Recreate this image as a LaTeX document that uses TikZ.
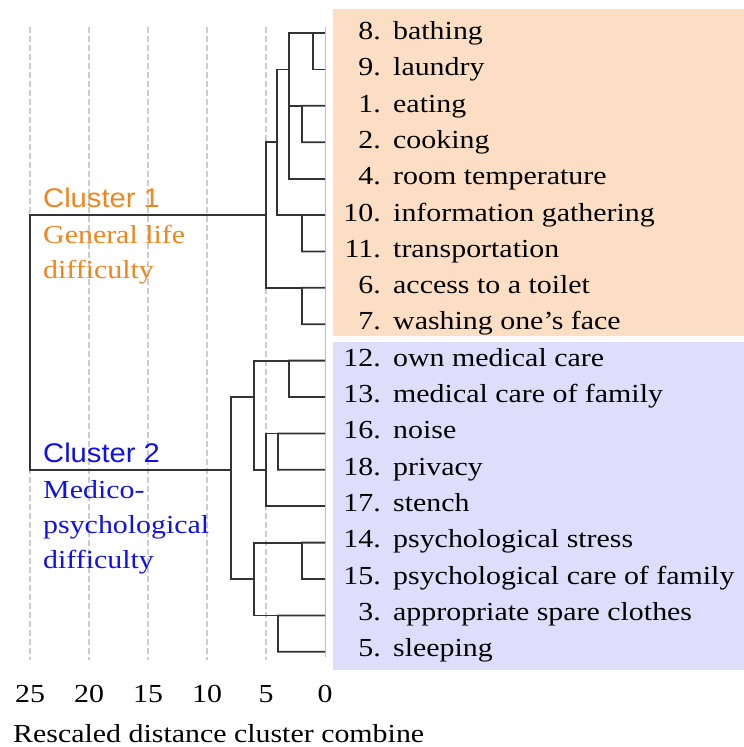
\documentclass[tikz,border=0pt]{standalone}
\usepackage{fontspec}
\setmainfont{Liberation Serif}[FakeStretch=1.15]
\newfontfamily\clusterfont{Liberation Sans}[FakeStretch=1.08]
\usetikzlibrary{positioning, calc}
\definecolor{boxorange}{RGB}{252,222,196}
\definecolor{boxblue}{RGB}{222,222,252}
\definecolor{txtorange}{RGB}{242,132,30}
\definecolor{txtblue}{RGB}{16,16,232}
\tikzstyle{grid}=[draw=gray!40,line width=2pt,dash pattern=on 6pt off 3pt]
\tikzstyle{tree}=[draw=black!80,line width=1.8pt]
\tikzstyle{itemnum}=[anchor=base east,inner sep=0pt]
\tikzstyle{itemtxt}=[anchor=base west,inner sep=0pt]
\tikzstyle{clabel}=[anchor=base west,inner sep=0pt]

\begin{document}
\begin{tikzpicture}[x=1pt,y=-1pt,font=\fontsize{26}{30}\selectfont]
    \useasboundingbox (0,0) rectangle (744,747);
    % cluster panels
    \fill[boxorange] (333,9) rectangle (744,336);
    \fill[boxblue] (333,342) rectangle (744,670);
    % distance grid
    \foreach \x in {30,89,148,207,266}
      \draw[grid] (\x,27) -- (\x,660);
    \draw[gray!50,line width=1pt] (325,27) -- (325,657);
    % leaves and item labels
    \foreach \num/\txt [count=\i from 0] in {8/bathing,9/laundry,1/eating,2/cooking,
        4/room temperature,10/information gathering,11/transportation,
        6/access to a toilet,7/washing one’s face,12/own medical care,
        13/medical care of family,16/noise,18/privacy,17/stench,
        14/psychological stress,15/psychological care of family,
        3/appropriate spare clothes,5/sleeping} {
      \coordinate (l\num) at (325,33+36.4*\i);
      \node [itemnum] (n\num) at (381,39.5+36.3*\i) {\num.};
      \node [itemtxt] (t\num) at (393,39.5+36.3*\i) {\txt};
    }
    % merge points
    \coordinate (m89) at (313,33);
    \coordinate (m12) at (302,105.8);
    \coordinate (mC) at (289,69.4);
    \coordinate (m1011) at (302,215);
    \coordinate (mE) at (277,142.2);
    \coordinate (m67) at (302,287.8);
    \coordinate (mG) at (266,215);
    \coordinate (m1213) at (289,360.6);
    \coordinate (m1618) at (278,433.4);
    \coordinate (mJ) at (266,469.8);
    \coordinate (mK) at (254,397);
    \coordinate (m1415) at (302,542.6);
    \coordinate (m35) at (278,615.4);
    \coordinate (mN) at (254,579);
    \coordinate (mO) at (231,470);
    \coordinate (mR) at (30,342);
    % dendrogram
    \draw[tree] (l9) -| (m89) -- (l8);
    \draw[tree] (l2) -| (m12) -- (l1);
    \draw[tree] (m89) -| (mC);
    \draw[tree] (l4) -| (mC);
    \draw[tree] (m12) -- (m12 -| mC);
    \draw[tree] (l11) -| (m1011) -- (l10);
    \draw[tree] (mC) -| (mE);
    \draw[tree] (m1011) -| (mE);
    \draw[tree] (l7) -| (m67) -- (l6);
    \draw[tree] (mE) -| (mG);
    \draw[tree] (m67) -| (mG);
    \draw[tree] (l13) -| (m1213) -- (l12);
    \draw[tree] (l18) -| (m1618) -- (l16);
    \draw[tree] (m1618) -| (mJ);
    \draw[tree] (l17) -| (mJ);
    \draw[tree] (m1213) -| (mK);
    \draw[tree] (mJ) -| (mK);
    \draw[tree] (l15) -| (m1415) -- (l14);
    \draw[tree] (l5) -| (m35) -- (l3);
    \draw[tree] (m1415) -| (mN);
    \draw[tree] (m35) -| (mN);
    \draw[tree] (mK) -| (mO);
    \draw[tree] (mN) -| (mO);
    \draw[tree] (mG) -| (mR);
    \draw[tree] (mO) -| (mR);
    % cluster names
    \node [clabel,text=txtorange,font=\clusterfont\fontsize{27}{30}\selectfont] (c1) at (43,207) {Cluster 1};
    \node [clabel,text=txtorange] (c1a) at (43,243) {General life};
    \node [clabel,text=txtorange] (c1b) at (43,278) {difficulty};
    \node [clabel,text=txtblue,font=\clusterfont\fontsize{27}{30}\selectfont] (c2) at (43,462) {Cluster 2};
    \node [clabel,text=txtblue] (c2a) at (43,498) {Medico-};
    \node [clabel,text=txtblue] (c2b) at (43,533) {psychological};
    \node [clabel,text=txtblue] (c2c) at (43,568) {difficulty};
    % axis
    \foreach \d/\x in {25/30,20/89,15/148,10/207,5/266,0/325}
      \node [anchor=base,inner sep=0pt] (d\d) at (\x,702) {\d};
    \node [anchor=base west,inner sep=0pt] (axis) at (13,742) {Rescaled distance cluster combine};
\end{tikzpicture}
\end{document}
